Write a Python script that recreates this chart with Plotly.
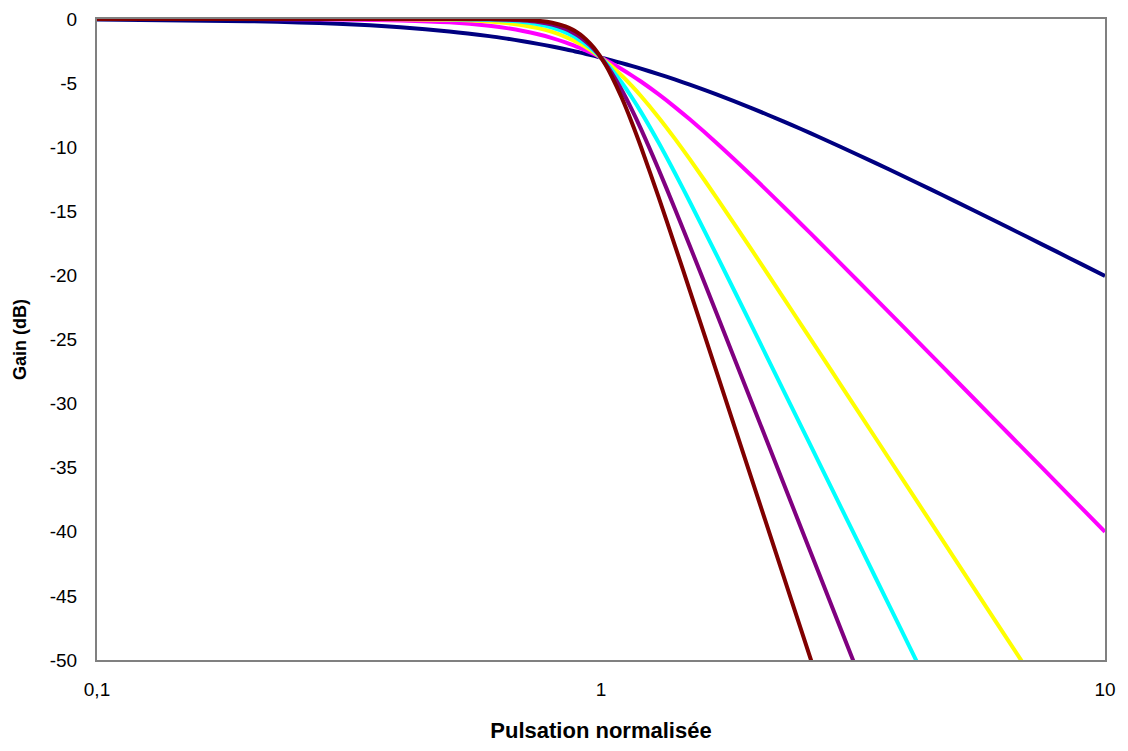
import plotly.graph_objects as go

# Normalised pulsation (x) and gain in dB for filter orders 1..6
pulsation = [0.1, 0.2, 0.3, 0.4, 0.5, 0.6, 0.65, 0.7, 0.75, 0.8, 0.85, 0.88, 0.9, 0.92, 0.95, 0.97,
             1, 1.02, 1.05, 1.1, 1.15, 1.2, 1.3, 1.4, 1.5, 1.7, 2, 2.3, 2.5, 2.7, 3, 3.5, 4, 4.5,
             5, 6, 7, 8, 9, 10]

gain_n1 = [-0.043, -0.170, -0.374, -0.645, -0.969, -1.335, -1.530, -1.732, -1.938, -2.148, -2.362,
           -2.490, -2.577, -2.663, -2.793, -2.880, -3.010, -3.097, -3.227, -3.444, -3.660, -3.874,
           -4.298, -4.713, -5.119, -5.900, -6.990, -7.987, -8.603, -9.186, -10.000, -11.222,
           -12.304, -13.274, -14.150, -15.682, -16.990, -18.129, -19.138, -20.043]
gain_n2 = [-0.000, -0.007, -0.035, -0.110, -0.263, -0.529, -0.713, -0.935, -1.194, -1.491, -1.824,
           -2.040, -2.191, -2.346, -2.588, -2.754, -3.010, -3.186, -3.455, -3.917, -4.392, -4.876,
           -5.862, -6.850, -7.827, -9.709, -12.304, -14.622, -16.027, -17.336, -19.138, -21.792,
           -24.099, -26.139, -27.966, -31.129, -33.806, -36.125, -38.170, -40.000]
gain_n3 = [0.0, -0.000, -0.003, -0.018, -0.067, -0.198, -0.316, -0.483, -0.711, -1.011, -1.390,
           -1.657, -1.851, -2.058, -2.393, -2.632, -3.010, -3.276, -3.692, -4.427, -5.202, -6.005,
           -7.655, -9.309, -10.931, -14.003, -18.129, -21.733, -23.894, -25.893, -28.633, -32.646,
           -36.125, -39.193, -41.938, -46.689, -50.706, None, None, None]
gain_n4 = [0.0, 0.0, -0.000, -0.003, -0.017, -0.072, -0.136, -0.243, -0.414, -0.673, -1.047,
           -1.334, -1.555, -1.799, -2.210, -2.513, -3.010, -3.368, -3.940, -4.974, -6.084, -7.243,
           -9.618, -11.975, -14.254, -18.498, -24.099, -28.944, -31.838, -34.511, -38.170, -43.526,
           -48.165, -52.257, None, None, None, None, None, None]
gain_n5 = [0.0, 0.0, 0.0, -0.000, -0.004, -0.026, -0.058, -0.121, -0.238, -0.443, -0.780,
           -1.067, -1.299, -1.567, -2.038, -2.399, -3.010, -3.462, -4.198, -5.556, -7.029, -8.568,
           -11.699, -14.760, -17.684, -23.066, -30.107, -36.174, -39.795, -43.137, -47.712, -54.407,
           None, None, None, None, None, None, None, None]
gain_n6 = [0.0, 0.0, 0.0, -0.000, -0.001, -0.009, -0.025, -0.060, -0.136, -0.289, -0.578,
           -0.848, -1.080, -1.360, -1.876, -2.289, -3.010, -3.557, -4.465, -6.168, -8.028, -9.963,
           -13.856, -17.611, -21.164, -27.661, -36.125, -43.407, -47.753, -51.764, None, None,
           None, None, None, None, None, None, None, None]

series = [gain_n1, gain_n2, gain_n3, gain_n4, gain_n5, gain_n6]
colors = ["#000080", "#FF00FF", "#FFFF00", "#00FFFF", "#800080", "#800000"]
names = ["n=1", "n=2", "n=3", "n=4", "n=5", "n=6"]

x_tickvals = [0.1, 1, 10]
x_ticktext = ["0,1", "1", "10"]
y_tickvals = [0, -5, -10, -15, -20, -25, -30, -35, -40, -45, -50]
y_ticktext = ["0", "-5", "-10", "-15", "-20", "-25", "-30", "-35", "-40", "-45", "-50"]

FONT = "Liberation Sans, Arial, sans-serif"

fig = go.Figure()
for g, c, n in zip(series, colors, names):
    fig.add_trace(go.Scatter(x=pulsation, y=g, mode="lines", name=n,
                             line=dict(color=c, width=4, shape="spline", smoothing=0.8),
                             connectgaps=False, hoverinfo="x+y"))

fig.update_layout(
    width=1112, height=735,
    margin=dict(l=89, r=15, t=11, b=83, autoexpand=False),
    paper_bgcolor="white", plot_bgcolor="white",
    showlegend=False,
    font=dict(family=FONT, color="black"),
    xaxis=dict(type="log", range=[-1, 1], tickvals=x_tickvals, ticktext=x_ticktext,
               showgrid=False, zeroline=False, showline=True, linecolor="#808080",
               linewidth=2, mirror=True, ticks="", ticklabelstandoff=11,
               tickfont=dict(size=19, family=FONT),
               title=dict(text="<b>Pulsation normalisée</b>", font=dict(size=22, family=FONT),
                          standoff=27)),
    xaxis2=dict(type="log", range=[-1, 1], overlaying="x", anchor="y", side="top",
                showticklabels=False, showgrid=False, zeroline=False, showline=True,
                linecolor="#202020", linewidth=2, ticks=""),
    yaxis=dict(range=[-50, 0], tickvals=y_tickvals, ticktext=y_ticktext, showgrid=False,
               zeroline=False, showline=True, linecolor="#808080", linewidth=2, mirror=True,
               ticks="", ticklabelstandoff=14, tickfont=dict(size=19, family=FONT),
               title=dict(text="<b>Gain (dB)</b>", font=dict(size=18, family=FONT),
                          standoff=18)),
    yaxis2=dict(range=[-50, 0], overlaying="y", anchor="free", position=0.5,
                tickvals=y_tickvals, showticklabels=False, showgrid=False, zeroline=False,
                showline=True, linecolor="#303030", linewidth=1.5,
                ticks="outside", ticklen=6, tickcolor="#303030", tickwidth=1.5),
)

fig.write_html("out.html")
